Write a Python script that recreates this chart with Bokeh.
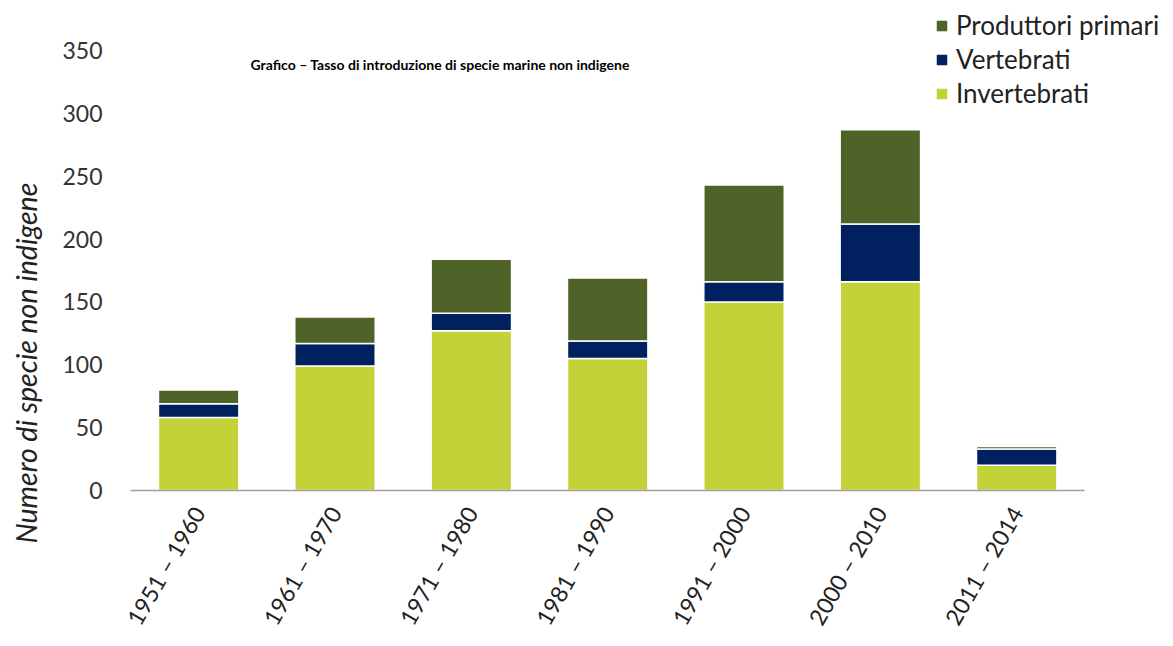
import math
from bokeh.plotting import figure
from bokeh.models import (ColumnDataSource, Range1d, Legend, LegendItem, Label,
                          Title, FixedTicker)
from bokeh.embed import file_html
from bokeh.resources import INLINE

categories = ["1951 – 1960", "1961 – 1970", "1971 – 1980", "1981 – 1990",
              "1991 – 2000", "2000 – 2010", "2011 – 2014"]
invertebrati = [58, 99, 127, 105, 150, 166, 20]
vertebrati = [11, 18, 14, 14, 16, 46, 13]
produttori = [11, 21, 43, 50, 77, 75, 2]
y_ticks = [0, 50, 100, 150, 200, 250, 300, 350]

series = ["Invertebrati", "Vertebrati", "Produttori primari"]
colors = ["#C4D239", "#002060", "#4F6228"]

xpos = [i + 0.5 for i in range(len(categories))]
source = ColumnDataSource(dict(x=xpos, Invertebrati=invertebrati,
                               Vertebrati=vertebrati,
                               **{"Produttori primari": produttori}))

FONT = "Lato"

p = figure(x_range=Range1d(0, 7.65), y_range=Range1d(0, 389.8),
           width=1173, height=646,
           output_backend="svg", toolbar_location=None,
           min_border_left=130, min_border_right=0, min_border_top=0,
           min_border_bottom=156)

renderers = p.vbar_stack(series, x="x", width=0.59, source=source, color=colors,
                         line_color="white", line_width=1.5)

p.xgrid.visible = False
p.ygrid.visible = False
p.outline_line_color = None

p.yaxis.ticker = y_ticks
p.yaxis.axis_line_color = None
p.yaxis.major_tick_line_color = None
p.yaxis.minor_tick_line_color = None
p.yaxis.major_label_standoff = 22
p.yaxis.major_label_text_font = FONT
p.yaxis.major_label_text_font_size = "23px"
p.yaxis.major_label_text_color = "#333333"

p.xaxis.ticker = FixedTicker(ticks=xpos)
p.xaxis.major_label_overrides = {x: c for x, c in zip(xpos, categories)}
p.xaxis.bounds = (0, len(categories))
p.xaxis.axis_line_color = "#A0A0A0"
p.xaxis.axis_line_width = 1.5
p.xaxis.major_tick_line_color = None
p.xaxis.minor_tick_line_color = None
p.xaxis.major_label_orientation = math.pi / 3
p.xaxis.major_label_standoff = 12
p.xaxis.major_label_text_font = FONT
p.xaxis.major_label_text_font_size = "23px"
p.xaxis.major_label_text_color = "#222222"

items = [LegendItem(label=series[i], renderers=[renderers[i]]) for i in (2, 1, 0)]
legend = Legend(items=items, location=(804, 381), padding=0, margin=0,
                glyph_width=15, glyph_height=15, label_height=28, spacing=2,
                label_standoff=7, label_text_font=FONT,
                label_text_font_size="26px", label_text_color="#222222",
                border_line_color=None, background_fill_alpha=0)
p.add_layout(legend)

spacer = Title(text=" ", text_font_size="1px", standoff=9)
p.add_layout(spacer, "left")

ytitle = Title(text="Numero di specie non indigene", align="left", offset=-53,
               standoff=10, text_font=FONT, text_font_style="italic",
               text_font_size="28.5px", text_color="#222222")
p.add_layout(ytitle, "left")

title = Label(x=120, y=426, x_units="screen", y_units="screen",
              text="Grafico – Tasso di introduzione di specie marine non indigene",
              text_align="left", text_baseline="middle", text_font=FONT,
              text_font_style="bold", text_font_size="14px", text_color="#000000")
p.add_layout(title)

open("out.html", "w").write(file_html(p, INLINE))
